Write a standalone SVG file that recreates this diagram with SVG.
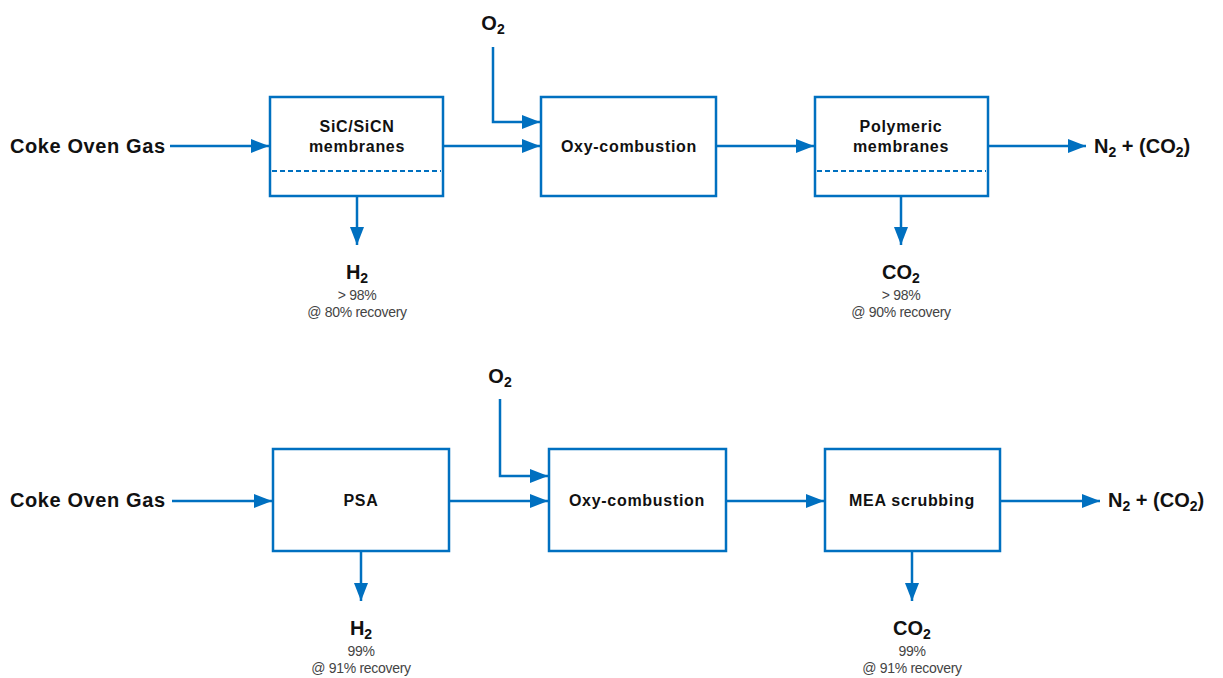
<svg xmlns="http://www.w3.org/2000/svg" width="1223" height="678" viewBox="0 0 1223 678">
<style>
.box{fill:#fff;stroke:#0070C0;stroke-width:2.5}
.ln{fill:none;stroke:#0070C0;stroke-width:2.5}
.dash{stroke:#0070C0;stroke-width:2;stroke-dasharray:5 3}
.big{font-family:"Liberation Sans",Arial,sans-serif;font-weight:bold;font-size:20px;fill:#111}
.feed{letter-spacing:0.6px}
.lbl{font-family:"Liberation Sans",Arial,sans-serif;font-weight:bold;font-size:16px;fill:#111;text-anchor:middle;letter-spacing:0.7px}
.sm{font-family:"Liberation Sans",Arial,sans-serif;font-size:14px;fill:#444;text-anchor:middle;letter-spacing:-0.3px}
.sub{font-size:14px}
</style>
<defs>
<marker id="ah" viewBox="0 0 18 14" refX="18" refY="7" markerWidth="18" markerHeight="14" markerUnits="userSpaceOnUse" orient="auto">
<path d="M0,0 L18,7 L0,14 z" fill="#0070C0"/>
</marker>
</defs>
<g id="connectors">
<line class="ln" x1="170" y1="146" x2="269" y2="146" marker-end="url(#ah)"/>
<line class="ln" x1="443" y1="146" x2="540" y2="146" marker-end="url(#ah)"/>
<polyline class="ln" points="493,47 493,122 540,122" marker-end="url(#ah)"/>
<line class="ln" x1="716" y1="146" x2="814" y2="146" marker-end="url(#ah)"/>
<line class="ln" x1="988" y1="146" x2="1086" y2="146" marker-end="url(#ah)"/>
<line class="ln" x1="357" y1="196" x2="357" y2="245" marker-end="url(#ah)"/>
<line class="ln" x1="901" y1="196" x2="901" y2="245" marker-end="url(#ah)"/>
<line class="ln" x1="172" y1="501" x2="272" y2="501" marker-end="url(#ah)"/>
<line class="ln" x1="449" y1="501" x2="548" y2="501" marker-end="url(#ah)"/>
<polyline class="ln" points="500,399 500,476 548,476" marker-end="url(#ah)"/>
<line class="ln" x1="726" y1="501" x2="824" y2="501" marker-end="url(#ah)"/>
<line class="ln" x1="1000" y1="501" x2="1100" y2="501" marker-end="url(#ah)"/>
<line class="ln" x1="361" y1="551" x2="361" y2="601" marker-end="url(#ah)"/>
<line class="ln" x1="912" y1="551" x2="912" y2="601" marker-end="url(#ah)"/>
</g>
<g id="feed-top"><text class="big feed" x="10" y="153">Coke Oven Gas</text></g>
<g id="o2-top"><text class="big" x="493" y="30" text-anchor="middle">O<tspan class="sub" dy="4">2</tspan></text></g>
<g id="sic-membranes">
<rect class="box" x="270" y="97" width="173" height="99"/>
<line class="dash" x1="272" y1="171" x2="441" y2="171"/>
<text class="lbl" x="357" y="132">SiC/SiCN</text>
<text class="lbl" x="357" y="152">membranes</text>
</g>
<g id="oxy-top">
<rect class="box" x="541" y="97" width="175" height="99"/>
<text class="lbl" x="629" y="152">Oxy-combustion</text>
</g>
<g id="polymeric-membranes">
<rect class="box" x="815" y="97" width="173" height="99"/>
<line class="dash" x1="817" y1="171" x2="986" y2="171"/>
<text class="lbl" x="901" y="132">Polymeric</text>
<text class="lbl" x="901" y="152">membranes</text>
</g>
<g id="out-top"><text class="big" x="1094" y="153">N<tspan class="sub" dy="4">2</tspan><tspan dy="-4"> + (CO</tspan><tspan class="sub" dy="4">2</tspan><tspan dy="-4">)</tspan></text></g>
<g id="h2-top">
<text class="big" x="357" y="279" text-anchor="middle">H<tspan class="sub" dy="4">2</tspan></text>
<text class="sm" x="357" y="300">&gt; 98%</text>
<text class="sm" x="357" y="317">@ 80% recovery</text>
</g>
<g id="co2-top">
<text class="big" x="901" y="279" text-anchor="middle">CO<tspan class="sub" dy="4">2</tspan></text>
<text class="sm" x="901" y="300">&gt; 98%</text>
<text class="sm" x="901" y="317">@ 90% recovery</text>
</g>
<g id="feed-bottom"><text class="big feed" x="10" y="507">Coke Oven Gas</text></g>
<g id="o2-bottom"><text class="big" x="500" y="383" text-anchor="middle">O<tspan class="sub" dy="4">2</tspan></text></g>
<g id="psa">
<rect class="box" x="273" y="449" width="176" height="102"/>
<text class="lbl" x="361" y="506">PSA</text>
</g>
<g id="oxy-bottom">
<rect class="box" x="549" y="449" width="177" height="102"/>
<text class="lbl" x="637" y="506">Oxy-combustion</text>
</g>
<g id="mea-scrubbing">
<rect class="box" x="825" y="449" width="175" height="102"/>
<text class="lbl" x="912" y="506">MEA scrubbing</text>
</g>
<g id="out-bottom"><text class="big" x="1108" y="507">N<tspan class="sub" dy="4">2</tspan><tspan dy="-4"> + (CO</tspan><tspan class="sub" dy="4">2</tspan><tspan dy="-4">)</tspan></text></g>
<g id="h2-bottom">
<text class="big" x="361" y="635" text-anchor="middle">H<tspan class="sub" dy="4">2</tspan></text>
<text class="sm" x="361" y="656">99%</text>
<text class="sm" x="361" y="673">@ 91% recovery</text>
</g>
<g id="co2-bottom">
<text class="big" x="912" y="635" text-anchor="middle">CO<tspan class="sub" dy="4">2</tspan></text>
<text class="sm" x="912" y="656">99%</text>
<text class="sm" x="912" y="673">@ 91% recovery</text>
</g>
</svg>
